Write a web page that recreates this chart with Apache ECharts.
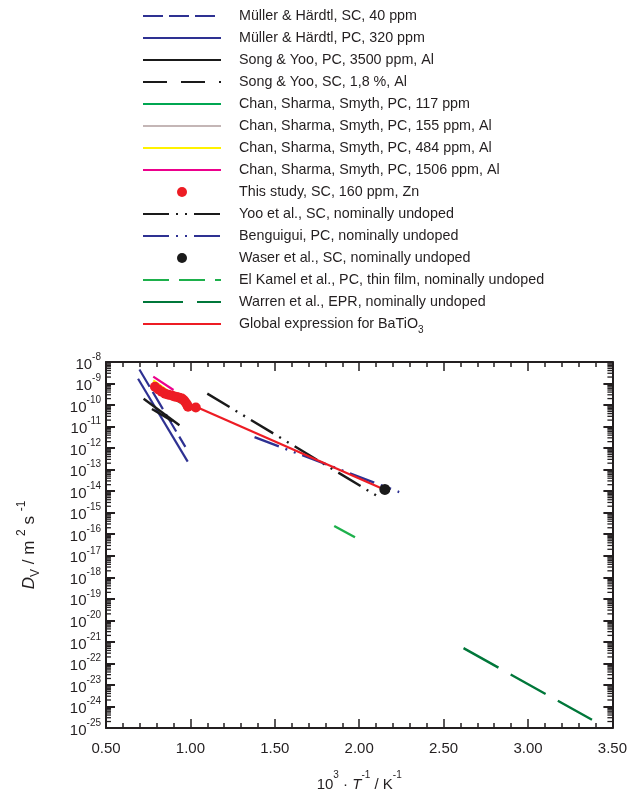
<!DOCTYPE html>
<html><head><meta charset="utf-8">
<script src="https://cdn.jsdelivr.net/npm/echarts@6/dist/echarts.min.js"></script>
<style>html,body{margin:0;padding:0;background:#fff}#c{width:630px;height:799px}</style>
</head><body><div id="c"></div><script>
// ---- axis settings ----
const X_MIN = 0.5, X_MAX = 3.5, X_STEP = 0.5;
const Y_MIN_EXP = -25, Y_MAX_EXP = -8;   // log10(D) range

// ---- data (x = 1000/T in 1/K, y = log10 of D in m^2/s) ----
const muellerSC_x = [0.698, 0.970];
const muellerSC_logD = [-8.35, -11.94];
const muellerPC_x = [0.690, 0.984];
const muellerPC_logD = [-8.78, -12.63];
const songPC_x = [0.723, 0.935];
const songPC_logD = [-9.71, -10.94];
const songSC_x = [0.772, 0.945];
const songSC_logD = [-10.18, -10.98];
const chan117_x = [0.800, 0.970];
const chan117_logD = [-9.15, -10.05];
const chan155_x = [0.785, 0.985];
const chan155_logD = [-8.98, -10.12];
const chan484_x = [0.780, 0.985];
const chan484_logD = [-8.85, -10.00];
const chan1506_x = [0.780, 0.900];
const chan1506_logD = [-8.68, -9.30];
const study_x = [0.790, 0.810, 0.830, 0.850, 0.870, 0.890, 0.905, 0.920, 0.935, 0.950, 0.962, 0.972, 0.980, 0.986, 1.032];
const study_logD = [-9.15, -9.28, -9.38, -9.47, -9.52, -9.56, -9.60, -9.62, -9.66, -9.70, -9.78, -9.88, -9.98, -10.08, -10.11];
const yoo_x = [1.100, 2.103];
const yoo_logD = [-9.47, -14.21];
const benguigui_x = [1.380, 2.237];
const benguigui_logD = [-11.49, -14.04];
const waser_x = [2.152];
const waser_logD = [-13.92];
const elkamel_x = [1.852, 1.975];
const elkamel_logD = [-15.62, -16.14];
const warren_x = [2.618, 3.379];
const warren_logD = [-21.29, -24.62];
const global_x = [0.787, 2.148];
const global_logD = [-9.23, -13.92];

const names = [
  'Müller & Härdtl, SC, 40 ppm',
  'Müller & Härdtl, PC, 320 ppm',
  'Song & Yoo, PC, 3500 ppm, Al',
  'Song & Yoo, SC, 1,8 %, Al',
  'Chan, Sharma, Smyth, PC, 117 ppm',
  'Chan, Sharma, Smyth, PC, 155 ppm, Al',
  'Chan, Sharma, Smyth, PC, 484 ppm, Al',
  'Chan, Sharma, Smyth, PC, 1506 ppm, Al',
  'This study, SC, 160 ppm, Zn',
  'Yoo et al., SC, nominally undoped',
  'Benguigui, PC, nominally undoped',
  'Waser et al., SC, nominally undoped',
  'El Kamel et al., PC, thin film, nominally undoped',
  'Warren et al., EPR, nominally undoped',
  'Global expression for BaTiO3'
];
const dotNames = [names[8], names[11]];

const zip = (xs, ys) => xs.map((x, i) => [x, ys[i]]);
const BLUE = '#2e3192', BLACK = '#1a1a1a';
function line(name, xs, ys, color, type, width, z) {
  return { name, type: 'line', data: zip(xs, ys), symbol: 'none', z: z || 3,
    lineStyle: { color, width: width || 2.2, type: type || 'solid', cap: 'butt' },
    itemStyle: { color }, animation: false };
}
function dots(name, xs, ys, color, size, z) {
  return { name, type: 'scatter', data: zip(xs, ys), symbol: 'circle', symbolSize: size, z: z || 5,
    itemStyle: { color, opacity: 1 }, animation: false };
}

// minor log ticks (2..9 within each decade)
const minorTicks = [];
for (let n = Y_MIN_EXP; n < Y_MAX_EXP; n++) {
  for (let k = 2; k <= 9; k++) minorTicks.push([X_MIN, n + Math.log10(k)]);
}

const font = 'Liberation Sans, Arial, sans-serif';
const ink = '#231f20';
const chart = echarts.init(document.getElementById('c'), null, { renderer: 'canvas' });
chart.setOption({
  backgroundColor: '#fff',
  animation: false,
  legend: {
    orient: 'vertical', left: 137, top: 0,
    itemWidth: 78, itemHeight: 10, itemGap: 0,
    data: names.map(n => dotNames.includes(n) ? n : { name: n, itemStyle: { opacity: 0 } }),
    selectedMode: false,
    formatter: n => n === 'Global expression for BaTiO3' ? 'Global expression for BaTiO{sub|3}' : n,
    textStyle: { fontFamily: font, fontSize: 14.3, color: ink, lineHeight: 22, padding: [0, 0, 0, 13],
      rich: { sub: { fontFamily: font, fontSize: 10, verticalAlign: 'bottom', lineHeight: 22, padding: [0,0,0,0] } } }
  },
  grid: { left: 106, right: 17, top: 362, bottom: 71, containLabel: false },
  xAxis: [
    { type: 'value', min: X_MIN, max: X_MAX, interval: X_STEP, position: 'bottom',
      axisLine: { show: true, onZero: false, lineStyle: { color: ink, width: 2 } },
      axisTick: { show: true, inside: true, length: 9, lineStyle: { color: ink, width: 1.5 } },
      minorTick: { show: true, splitNumber: 5, length: 5, lineStyle: { color: ink, width: 1.5 } },
      splitLine: { show: false },
      axisLabel: { fontFamily: font, fontSize: 15, color: ink, margin: 13, formatter: v => v.toFixed(2) },
      name: '{n|10}{sup|3}{n| · }{i|T}{sup|-1}{n| / K}{sup|-1}', nameLocation: 'middle', nameGap: 42,
      nameTextStyle: { rich: {
        n: { fontFamily: font, fontSize: 15, color: ink, lineHeight: 22, verticalAlign: 'bottom' },
        i: { fontFamily: font, fontSize: 15, color: ink, fontStyle: 'italic', lineHeight: 22, verticalAlign: 'bottom' },
        sup: { fontFamily: font, fontSize: 10, color: ink, verticalAlign: 'top', lineHeight: 22 } } } },
    { type: 'value', min: X_MIN, max: X_MAX, interval: X_STEP, position: 'top',
      axisLine: { show: true, onZero: false, lineStyle: { color: ink, width: 2 } },
      axisTick: { show: true, inside: true, length: 9, lineStyle: { color: ink, width: 1.5 } },
      minorTick: { show: true, splitNumber: 5, length: 5, lineStyle: { color: ink, width: 1.5 } },
      splitLine: { show: false }, axisLabel: { show: false } }
  ],
  yAxis: [
    { type: 'value', min: Y_MIN_EXP, max: Y_MAX_EXP, interval: 1, position: 'left',
      axisLine: { show: true, onZero: false, lineStyle: { color: ink, width: 2 } },
      axisTick: { show: true, inside: true, length: 9, lineStyle: { color: ink, width: 2 } },
      splitLine: { show: false },
      axisLabel: { margin: 5, formatter: v => '{b|10}{s|' + v + '}',
        rich: { b: { fontFamily: font, fontSize: 15, color: ink, lineHeight: 20, verticalAlign: 'bottom' },
                s: { fontFamily: font, fontSize: 10, color: ink, lineHeight: 20, verticalAlign: 'top' } } },
      name: '{i|D}{sub|V}{n| / m }{sup|2}{n| s }{sup|-1}', nameLocation: 'middle', nameRotate: 90, nameGap: 64,
      nameTextStyle: { rich: {
        n: { fontFamily: font, fontSize: 17, color: ink, lineHeight: 26, verticalAlign: 'middle' },
        i: { fontFamily: font, fontSize: 17, color: ink, fontStyle: 'italic', lineHeight: 26, verticalAlign: 'middle' },
        sub: { fontFamily: font, fontSize: 12, color: ink, lineHeight: 26, verticalAlign: 'bottom' },
        sup: { fontFamily: font, fontSize: 12, color: ink, lineHeight: 26, verticalAlign: 'top' } } } },
    { type: 'value', min: Y_MIN_EXP, max: Y_MAX_EXP, interval: 1, position: 'right',
      axisLine: { show: true, onZero: false, lineStyle: { color: ink, width: 2 } },
      axisTick: { show: true, inside: true, length: 9, lineStyle: { color: ink, width: 2 } },
      splitLine: { show: false }, axisLabel: { show: false } }
  ],
  series: [
    { type: 'custom', name: 'minorTicks', data: minorTicks, silent: true, z: 10, animation: false,
      renderItem: (params, api) => {
        const y = api.value(1);
        const pL = api.coord([X_MIN, y]);
        const pR = api.coord([X_MAX, y]);
        return { type: 'group', children: [
          { type: 'line', shape: { x1: pL[0], y1: pL[1], x2: pL[0] + 5, y2: pL[1] }, style: { stroke: ink, lineWidth: 1.3 } },
          { type: 'line', shape: { x1: pR[0], y1: pR[1], x2: pR[0] - 5, y2: pR[1] }, style: { stroke: ink, lineWidth: 1.3 } }
        ] };
      } },
    line(names[0], muellerSC_x, muellerSC_logD, BLUE, [20, 6]),
    line(names[1], muellerPC_x, muellerPC_logD, BLUE, 'solid'),
    line(names[2], songPC_x, songPC_logD, BLACK, 'solid', 2.4),
    line(names[3], songSC_x, songSC_logD, BLACK, [24, 14], 2.4),
    line(names[4], chan117_x, chan117_logD, '#00a651', 'solid'),
    line(names[5], chan155_x, chan155_logD, '#c4b6b6', 'solid'),
    line(names[6], chan484_x, chan484_logD, '#fff200', 'solid'),
    line(names[7], chan1506_x, chan1506_logD, '#ec008c', 'solid'),
    dots(names[8], study_x, study_logD, '#ed1c24', 10, 6),
    line(names[9], yoo_x, yoo_logD, BLACK, [26, 7, 2, 7, 2, 7], 2.4),
    line(names[10], benguigui_x, benguigui_logD, BLUE, [26, 7, 2, 7, 2, 7], 2.4),
    dots(names[11], waser_x, waser_logD, BLACK, 11, 7),
    line(names[12], elkamel_x, elkamel_logD, '#1db04b', [26, 10], 2.4),
    line(names[13], warren_x, warren_logD, '#00773a', [40, 14], 2.4),
    line(names[14], global_x, global_logD, '#ed1c24', 'solid', 2.2, 4)
  ]
});
</script></body></html>
